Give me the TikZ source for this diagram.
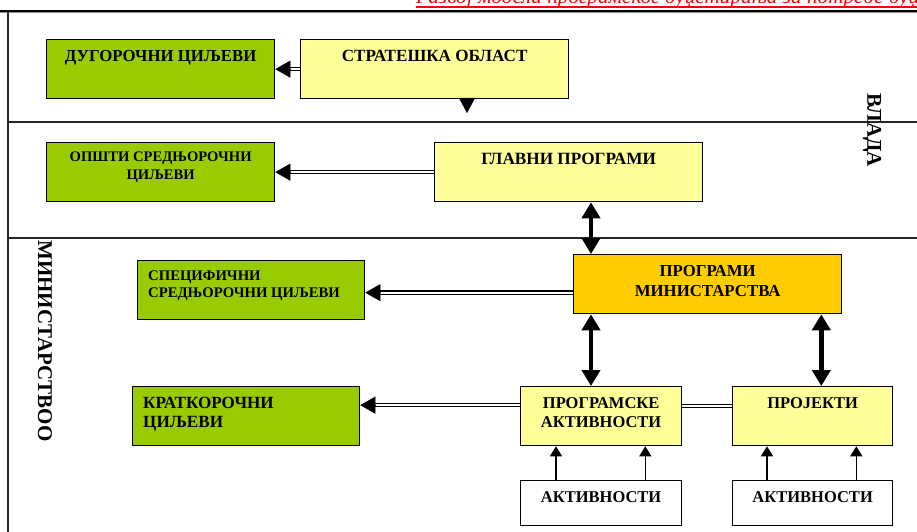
\documentclass[tikz,border=0pt]{standalone}
\usepackage{fontspec}
\setmainfont{Liberation Serif}
\usetikzlibrary{arrows.meta}
\definecolor{grn}{HTML}{99CC00}
\definecolor{yel}{HTML}{FFFF99}
\definecolor{org}{HTML}{FFCC00}
\begin{document}
\begin{tikzpicture}[x=1pt,y=1pt,
  box/.style={draw=black, line width=1.3pt, inner sep=0pt, anchor=north west},
  txt/.style={font=\fontsize{#1}{19.5}\selectfont\bfseries, inner sep=0pt, anchor=north, align=center},
  txt/.default=16.5,
  ltxt/.style={font=\fontsize{#1}{19}\selectfont\bfseries, inner sep=0pt, anchor=north west, align=left},
  ltxt/.default=16.5,
  rottxt/.style={font=\fontsize{21}{24}\selectfont\bfseries, inner sep=0pt, rotate=-90},
  dline/.style={draw=black, line width=1.2pt, double=white, double distance=2.2pt},
  dhead/.style={line width=0.4pt, -{Triangle[length=15pt,width=17pt]}},
  bigarr/.style={line width=4.5pt, {Triangle[length=16pt,width=18pt]}-{Triangle[length=16pt,width=18pt]}},
  downtip/.style={line width=0.4pt, -{Triangle[length=15pt,width=16pt]}},
  upar/.style={line width=1.5pt, -{Triangle[length=10pt,width=12pt]}},
  frame/.style={line width=1.3pt, draw=black!85}
]
\useasboundingbox (0,0) rectangle (917,-532);
\clip (0,0) rectangle (917,-532);

% header
\node[anchor=base west, inner sep=0pt] (head) at (416,-4)
  {\resizebox{503pt}{!}{\color{red}\itshape Развој модела програмског буџетирања за потребе буџ}};
\draw[red, line width=1.8pt] (416,-7) -- (917,-7);
\draw[black, line width=1.2pt] (0,-11) -- (917,-11);
\draw[black!45, line width=1pt] (0,-12.4) -- (917,-12.4);

% frame
\draw[frame] (8,-12) -- (8,-532);
\draw[frame] (8,-122) -- (917,-122);
\draw[frame] (8,-238) -- (917,-238);

% boxes
\node[box, fill=grn, minimum width=228pt, minimum height=59pt] (dug) at (46,-39) {};
\node[box, fill=yel, minimum width=268pt, minimum height=59pt] (str) at (300,-39) {};
\node[box, fill=grn, minimum width=228pt, minimum height=59pt] (ops) at (46,-142) {};
\node[box, fill=yel, minimum width=268pt, minimum height=59pt] (glav) at (434,-142) {};
\node[box, fill=grn, minimum width=227pt, minimum height=59pt] (spec) at (137,-260) {};
\node[box, fill=org, minimum width=268pt, minimum height=59pt] (pm) at (573,-254) {};
\node[box, fill=grn, minimum width=227pt, minimum height=59pt] (kr) at (132,-386) {};
\node[box, fill=yel, minimum width=161pt, minimum height=59pt] (pa) at (520,-386) {};
\node[box, fill=yel, minimum width=160pt, minimum height=59pt] (proj) at (732,-386) {};
\node[box, fill=white, minimum width=161pt, minimum height=45pt] (akt1) at (520,-480) {};
\node[box, fill=white, minimum width=160pt, minimum height=45pt] (akt2) at (732,-480) {};

% texts
\node[txt=16.8] (dugt) at ([yshift=-11pt]dug.north) {ДУГОРОЧНИ ЦИЉЕВИ};
\node[txt=17.1] (strt) at ([yshift=-11pt]str.north) {СТРАТЕШКА ОБЛАСТ};
\node[txt=14.6, font=\fontsize{14.6}{18}\selectfont\bfseries] (opst) at ([yshift=-9.5pt]ops.north) {ОПШТИ СРЕДЊОРОЧНИ\\ЦИЉЕВИ};
\node[txt=17.2] (glavt) at ([yshift=-11pt]glav.north) {ГЛАВНИ ПРОГРАМИ};
\node[ltxt=14.7, font=\fontsize{14.7}{17.5}\selectfont\bfseries] (spect) at ([xshift=11pt,yshift=-10.5pt]spec.north west) {СПЕЦИФИЧНИ\\СРЕДЊОРОЧНИ ЦИЉЕВИ};
\node[txt=16.8, font=\fontsize{16.8}{20.5}\selectfont\bfseries] (pmt) at ([yshift=-11pt]pm.north) {ПРОГРАМИ\\МИНИСТАРСТВА};
\node[ltxt=17.1] (krt) at ([xshift=11pt,yshift=-11pt]kr.north west) {КРАТКОРОЧНИ\\ЦИЉЕВИ};
\node[txt] (pat) at ([yshift=-11pt]pa.north) {ПРОГРАМСКЕ\\АКТИВНОСТИ};
\node[txt] (projt) at ([yshift=-11pt]proj.north) {ПРОЈЕКТИ};
\node[txt] (akt1t) at ([yshift=-11pt]akt1.north) {АКТИВНОСТИ};
\node[txt] (akt2t) at ([yshift=-11pt]akt2.north) {АКТИВНОСТИ};

% rotated labels
\node[rottxt] (vlada) at (872,-130) {ВЛАДА};
\node[rottxt] (mins) at (45,-341) {МИНИСТАРСТВОО};

% double-line arrows
\draw[dline] (str.west) -- ([xshift=14pt]dug.east);
\draw[dhead] ([xshift=15pt]dug.east) -- (dug.east);
\draw[dline] (glav.west) -- ([xshift=14pt]ops.east);
\draw[dhead] ([xshift=15pt]ops.east) -- (ops.east);
\coordinate (s3) at ([yshift=-2.5pt]spec.east);
\draw[dline] (pm.west |- s3) -- ([xshift=14pt]s3);
\draw[dhead] ([xshift=15pt]s3) -- (s3);
\coordinate (s4) at ([yshift=11pt]kr.east);
\draw[dline] (pa.west |- s4) -- ([xshift=14pt]s4);
\draw[dhead] ([xshift=15pt]s4) -- (s4);
\draw[dline] ([yshift=10pt]pa.east) -- ([yshift=10pt]proj.west);

% small down tip
\coordinate (tri) at (467,-113);
\draw[downtip] (tri |- str.south) -- (tri);

% thick double arrows
\coordinate (c1) at ([xshift=18pt]pm.north west);
\coordinate (c2) at ([xshift=-21pt]pm.south east);
\draw[bigarr] (c1 |- glav.south) -- (c1);
\draw[bigarr] (c1 |- pm.south) -- (c1 |- pa.north);
\draw[bigarr] (c2) -- (c2 |- proj.north);

% thin up arrows
\draw[upar] ([xshift=36pt]akt1.north west) -- ([xshift=36pt]pa.south west);
\draw[upar] ([xshift=-37pt]akt1.north east) -- ([xshift=-37pt]pa.south east);
\draw[upar] ([xshift=35pt]akt2.north west) -- ([xshift=35pt]proj.south west);
\draw[upar] ([xshift=-37pt]akt2.north east) -- ([xshift=-37pt]proj.south east);
\end{tikzpicture}
\end{document}
